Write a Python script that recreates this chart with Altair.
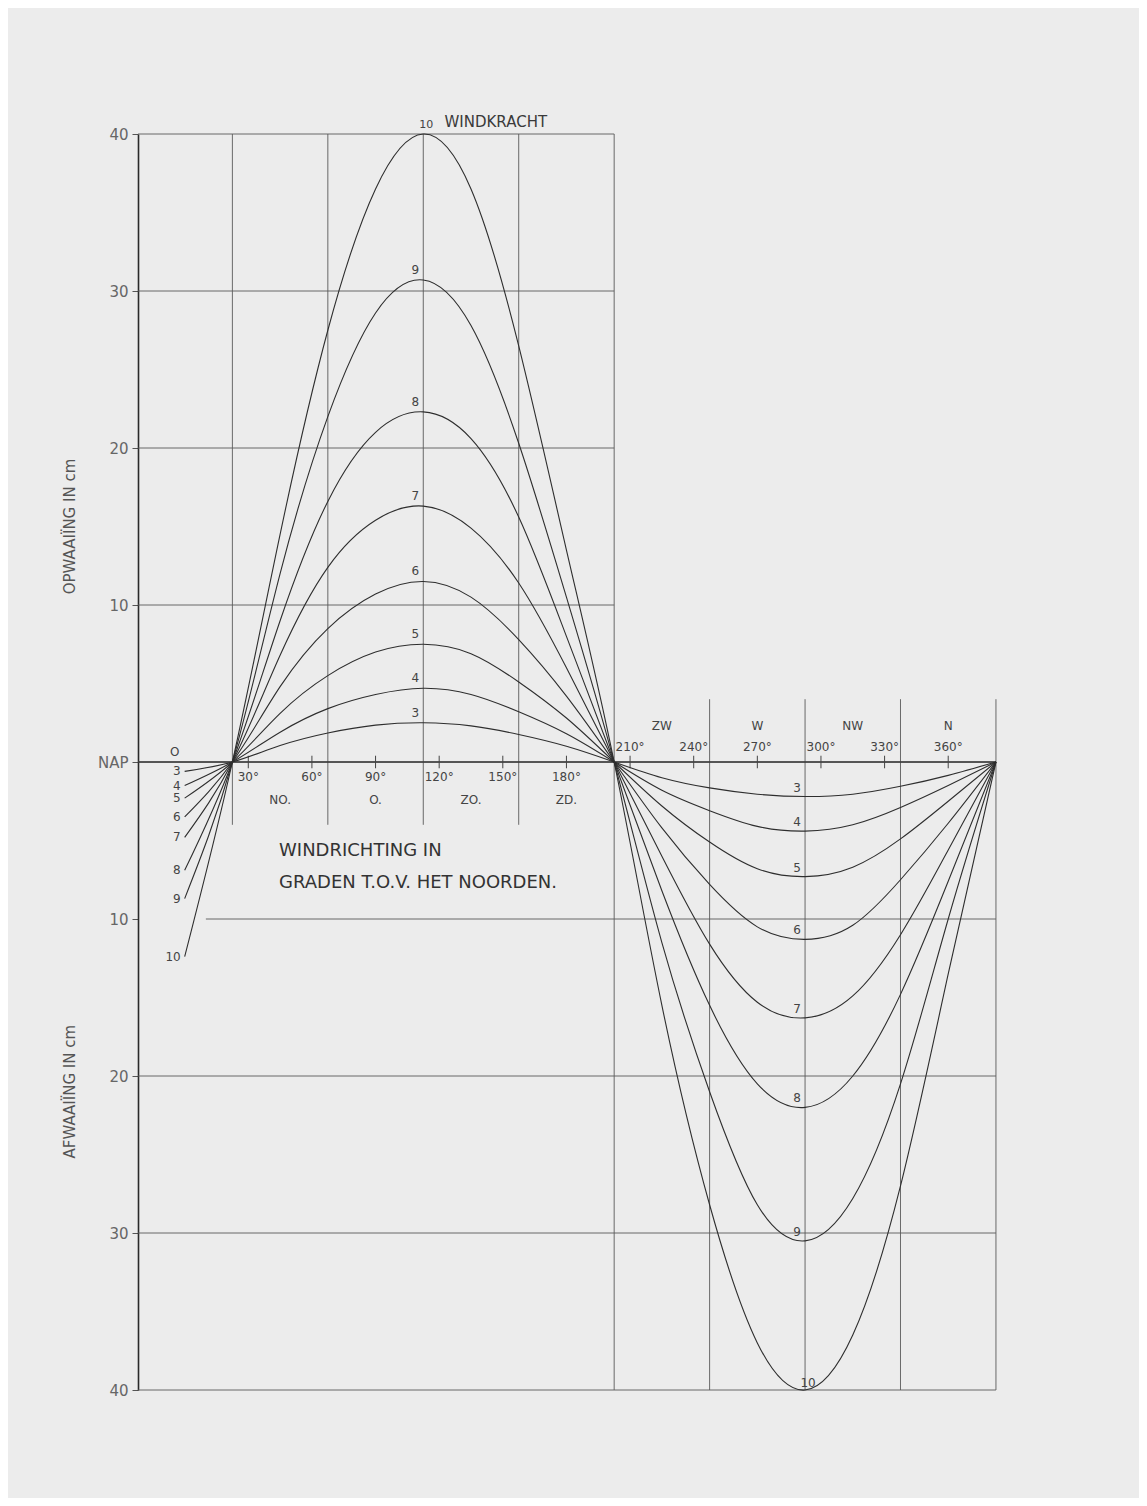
import altair as alt
import pandas as pd

# ---------------- data ----------------
degrees = [0, 22.5, 45, 67.5, 90, 112.5, 135, 157.5, 180, 202.5,
           225, 247.5, 270, 292.5, 315, 337.5, 360, 382.5]
windkracht = [3, 4, 5, 6, 7, 8, 9, 10]

kracht_3 = [-0.6, 0, 1.05, 1.85, 2.35, 2.5, 2.3, 1.75, 1.0, 0, -1.0, -1.65, -2.05, -2.2, -2.05, -1.55, -0.85, 0]
kracht_4 = [-1.5, 0, 1.9, 3.4, 4.3, 4.7, 4.3, 3.2, 1.8, 0, -1.8, -3.1, -4.1, -4.4, -4.0, -2.9, -1.5, 0]
kracht_5 = [-2.3, 0, 3.1, 5.5, 7.0, 7.5, 6.9, 5.1, 2.8, 0, -2.8, -5.1, -6.8, -7.3, -6.7, -4.9, -2.5, 0]
kracht_6 = [-3.5, 0, 4.8, 8.5, 10.7, 11.5, 10.5, 7.8, 4.2, 0, -4.2, -7.8, -10.5, -11.3, -10.4, -7.5, -3.9, 0]
kracht_7 = [-4.8, 0, 6.8, 12.4, 15.4, 16.3, 14.9, 11.4, 6.0, 0, -6.0, -11.6, -15.3, -16.3, -14.9, -11.0, -5.6, 0]
kracht_8 = [-6.9, 0, 9.0, 16.6, 21.0, 22.3, 20.6, 15.6, 8.0, 0, -8.2, -15.5, -20.5, -22.0, -20.0, -14.8, -7.6, 0]
kracht_9 = [-8.7, 0, 12.0, 22.0, 28.6, 30.7, 27.8, 20.3, 10.5, 0, -11.5, -21.0, -28.2, -30.5, -27.8, -20.5, -10.0, 0]
kracht_10 = [-12.4, 0, 14.5, 27.5, 36.5, 40.0, 36.5, 26.5, 13.5, 0, -15.5, -28.2, -37.0, -40.0, -36.5, -27.0, -13.5, 0]

series = {3: kracht_3, 4: kracht_4, 5: kracht_5, 6: kracht_6,
          7: kracht_7, 8: kracht_8, 9: kracht_9, 10: kracht_10}

# grid of the drawing (in data units)
h_level = [40, 30, 20, 10, 0, -10, -20, -30, -40]
h_start = [-22, -22, -22, -22, -22, 10, -22, -22, -22]
h_end = [202.5, 202.5, 202.5, 202.5, 382.5, 382.5, 382.5, 382.5, 382.5]
v_graden = [22.5, 67.5, 112.5, 157.5, 202.5, 247.5, 292.5, 337.5, 382.5]
v_top = [40, 40, 40, 40, 40, 4, 4, 4, 4]
v_bottom = [-4, -4, -4, -4, -40, -40, -40, -40, -40]

tick_graden = [30, 60, 90, 120, 150, 180, 210, 240, 270, 300, 330, 360]
richting_boven = ["NO.", "O.", "ZO.", "ZD."]
richting_boven_graden = [45, 90, 135, 180]
richting_onder = ["ZW", "W", "NW", "N"]
richting_onder_graden = [225, 270, 315, 360]
y_ticks = [40, 30, 20, 10, 0, -10, -20, -30, -40]

# ---------------- tables ----------------
curves = pd.DataFrame([{"graden": d, "cm": v, "kracht": k}
                       for k in windkracht for d, v in zip(degrees, series[k])])
hgrid = pd.DataFrame({"level": h_level, "start": h_start, "end": h_end})
vgrid = pd.DataFrame({"graden": v_graden, "top": v_top, "bottom": v_bottom})
ticks = pd.DataFrame({"graden": tick_graden,
                      "label": [f"{g}°" for g in tick_graden],
                      "nul": [0] * len(tick_graden),
                      "t1": [0.4] * len(tick_graden),
                      "t2": [-0.4] * len(tick_graden)})
ticks_up = ticks[ticks.graden <= 180]
ticks_down = ticks[ticks.graden > 180]
comp_up = pd.DataFrame({"graden": richting_boven_graden, "label": richting_boven, "nul": 0})
comp_down = pd.DataFrame({"graden": richting_onder_graden, "label": richting_onder, "nul": 0})

peaks = curves[(curves.graden == 112.5) & (curves.kracht < 10)]
troughs = curves[(curves.graden == 292.5) & (curves.kracht < 10)]
peak10 = curves[(curves.graden == 112.5) & (curves.kracht == 10)]
trough10 = curves[(curves.graden == 292.5) & (curves.kracht == 10)]
starts = curves[curves.graden == 0]

xs = alt.Scale(domain=[-22, 383], nice=False, zero=False)
ys = alt.Scale(domain=[-40, 40], nice=False, zero=False)

GRID = "#5a5a5a"
FONT = "DejaVu Sans"

YAX = alt.Axis(
    values=y_ticks, grid=False, domain=True, domainColor="#2a2a2a",
    domainWidth=1.6, tickColor="#555", tickSize=6, tickWidth=1,
    labelExpr="datum.value == 0 ? 'NAP' : '' + abs(datum.value)",
    labelFontSize=15, labelColor="#666", labelFont=FONT, labelPadding=4,
    title=None)


def X(f):
    return alt.X(f, type="quantitative", scale=xs, axis=None)


def Y(f):
    return alt.Y(f, type="quantitative", scale=ys, axis=YAX)


def XD(v):
    return alt.XDatum(v, type="quantitative", scale=xs, axis=None)


def YD(v):
    return alt.YDatum(v, type="quantitative", scale=ys, axis=YAX)


def txt(text, **kw):
    return alt.Chart(pd.DataFrame({"t": [text]})).mark_text(font=FONT, **kw)


curve_layer = alt.Chart(curves).mark_line(
    interpolate="natural", color="#2e2e2e", strokeWidth=1.1
).encode(x=X("graden"), y=Y("cm"), detail="kracht:N")

hgrid_layer = alt.Chart(hgrid).mark_rule(color=GRID, strokeWidth=0.9).encode(
    x=X("start"), x2="end", y=Y("level"))
vgrid_layer = alt.Chart(vgrid).mark_rule(color=GRID, strokeWidth=0.9).encode(
    x=X("graden"), y=Y("top"), y2="bottom")
nap_layer = alt.Chart(hgrid[hgrid.level == 0]).mark_rule(color="#3a3a3a", strokeWidth=1.6).encode(
    x=X("start"), x2="end", y=Y("level"))
tick_layer = alt.Chart(ticks).mark_rule(color="#444", strokeWidth=1).encode(
    x=X("graden"), y=Y("t1"), y2="t2")

lab = dict(font=FONT, fontSize=12, color="#444", baseline="middle")

tick_lab_up = alt.Chart(ticks_up).mark_text(dy=15, **lab).encode(
    x=X("graden"), y=Y("nul"), text="label")
tick_lab_down = alt.Chart(ticks_down).mark_text(dy=-15, **lab).encode(
    x=X("graden"), y=Y("nul"), text="label")
comp_lab_up = alt.Chart(comp_up).mark_text(dy=38, **lab).encode(
    x=X("graden"), y=Y("nul"), text="label")
comp_lab_down = alt.Chart(comp_down).mark_text(dy=-36, **lab).encode(
    x=X("graden"), y=Y("nul"), text="label")

peak_lab = alt.Chart(peaks).mark_text(dx=-8, dy=-10, **lab).encode(
    x=X("graden"), y=Y("cm"), text="kracht:N")
trough_lab = alt.Chart(troughs).mark_text(dx=-8, dy=-9, **lab).encode(
    x=X("graden"), y=Y("cm"), text="kracht:N")
peak10_lab = alt.Chart(peak10).mark_text(dx=3, dy=-9, font=FONT, fontSize=11,
                                         color="#444", baseline="middle").encode(
    x=X("graden"), y=Y("cm"), text="kracht:N")
trough10_lab = alt.Chart(trough10).mark_text(dx=3, dy=-7, **lab).encode(
    x=X("graden"), y=Y("cm"), text="kracht:N")
start_lab = alt.Chart(starts).mark_text(dx=-4, align="right", **lab).encode(
    x=X("graden"), y=Y("cm"), text="kracht:N")

zero_lab = txt("O", fontSize=12, color="#444", dx=-10, dy=-10, baseline="middle").encode(
    x=XD(0), y=YD(0), text="t:N")

windkracht_lab = txt("WINDKRACHT", fontSize=15, color="#3a3a3a", align="left",
                     dy=-12, baseline="middle").encode(
    x=XD(122.5), y=YD(40), text="t:N")

titel_1 = txt("WINDRICHTING IN", fontSize=18, color="#333", align="left",
              baseline="middle").encode(x=XD(44.5), y=YD(-5.7), text="t:N")
titel_2 = txt("GRADEN  T.O.V. HET NOORDEN.", fontSize=18, color="#333", align="left",
              baseline="middle").encode(x=XD(44.5), y=YD(-7.7), text="t:N")

as_titel_1 = txt("OPWAAIÏNG IN cm", fontSize=15, color="#555", angle=270,
                 baseline="middle").encode(x=alt.value(-68), y=YD(15), text="t:N")
as_titel_2 = txt("AFWAAIÏNG IN cm", fontSize=15, color="#555", angle=270,
                 baseline="middle").encode(x=alt.value(-68), y=YD(-21), text="t:N")

chart = alt.layer(
    hgrid_layer, vgrid_layer, nap_layer, tick_layer,
    curve_layer,
    tick_lab_up, tick_lab_down, comp_lab_up, comp_lab_down,
    peak_lab, trough_lab, peak10_lab, trough10_lab, start_lab, zero_lab,
    windkracht_lab, titel_1, titel_2, as_titel_1, as_titel_2,
).properties(
    width=859, height=1256,
    padding={"left": 130, "top": 126, "right": 142, "bottom": 108},
    autosize=alt.AutoSizeParams(type="none"),
    background="#ececec",
).configure(font=FONT).configure_view(stroke=None)

chart.save("out.html", embed_options={"renderer": "svg", "actions": False})
